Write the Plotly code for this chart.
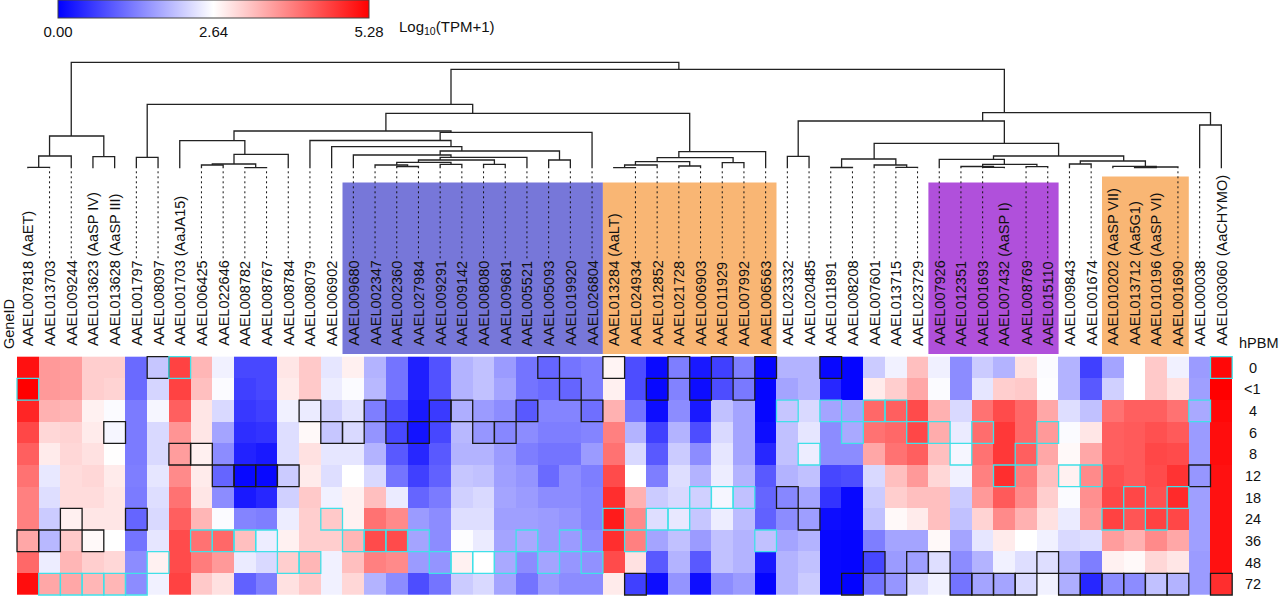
import plotly.graph_objects as go

# ---------------- data ----------------
genes = ["AAEL007818 (AaET)", "AAEL013703", "AAEL009244", "AAEL013623 (AaSP IV)", "AAEL013628 (AaSP III)",
         "AAEL001797", "AAEL008097", "AAEL001703 (AaJA15)", "AAEL006425", "AAEL022646",
         "AAEL008782", "AAEL008767", "AAEL008784", "AAEL008079", "AAEL006902",
         "AAEL009680", "AAEL002347", "AAEL002360", "AAEL027984", "AAEL009291",
         "AAEL009142", "AAEL008080", "AAEL009681", "AAEL005521", "AAEL005093",
         "AAEL019920", "AAEL026804", "AAEL013284 (AaLT)", "AAEL024934", "AAEL012852",
         "AAEL021728", "AAEL006903", "AAEL011929", "AAEL007992", "AAEL006563",
         "AAEL023332", "AAEL020485", "AAEL011891", "AAEL008208", "AAEL007601",
         "AAEL013715", "AAEL023729", "AAEL007926", "AAEL012351", "AAEL001693",
         "AAEL007432 (AaSP I)", "AAEL008769", "AAEL015110", "AAEL009843", "AAEL001674",
         "AAEL010202 (AaSP VII)", "AAEL013712 (Aa5G1)", "AAEL010196 (AaSP VI)", "AAEL001690", "AAEL000038",
         "AAEL003060 (AaCHYMO)"]

hpbm = ["0", "<1", "4", "6", "8", "12", "18", "24", "36", "48", "72"]

# log10(TPM+1), one list per time point (genes in dendrogram order)
h0 = [5.1, 3.7, 3.65, 3.15, 3.15, 1.1, 2.05, 4.6, 3.4, 2.5,
      0.75, 0.75, 2.9, 3.2, 2.38, 2.8, 1.85, 1.2, 0.32, 0.85,
      1.85, 2.0, 1.6, 1.2, 1.05, 1.2, 1.3, 2.75, 0.8, 0.1,
      1.3, 0.26, 0.66, 1.3, 0.05, 1.85, 1.85, 0.08, 0.05, 2.1,
      2.5, 3.3, 2.48, 1.45, 2.1, 1.85, 2.95, 2.6, 1.85, 0.66,
      1.7, 2.64, 3.2, 2.5, 1.6, 5.2]
h_lt1 = [5.28, 3.7, 3.65, 3.15, 3.1, 1.1, 2.2, 4.6, 3.3, 2.6,
         0.66, 0.75, 2.85, 3.2, 2.45, 2.6, 1.9, 1.2, 0.32, 0.85,
         1.85, 2.0, 1.7, 1.2, 1.1, 1.05, 1.3, 2.8, 0.8, 0.08,
         1.35, 0.13, 0.8, 1.25, 0.05, 1.7, 1.85, 0.4, 0.05, 2.85,
         3.15, 3.55, 2.6, 1.45, 2.38, 3.15, 3.2, 2.62, 1.85, 0.92,
         2.15, 2.64, 3.2, 2.95, 1.65, 5.28]
h4 = [4.9, 3.45, 3.4, 2.78, 2.6, 1.27, 2.55, 4.3, 2.9, 2.25,
      0.58, 0.66, 2.5, 2.43, 2.15, 2.35, 1.3, 0.8, 0.26, 0.6,
      1.8, 1.6, 1.45, 0.92, 1.37, 1.37, 1.15, 3.45, 1.2, 0.13,
      1.45, 0.26, 2.0, 1.7, 0.06, 2.05, 2.25, 1.7, 1.7, 4.2,
      4.3, 4.5, 3.45, 2.25, 4.1, 4.5, 4.2, 3.55, 2.3, 2.0,
      4.1, 4.3, 4.3, 4.1, 1.75, 5.2]
h6 = [4.55, 3.05, 3.1, 2.85, 2.55, 1.27, 2.25, 3.75, 2.9, 1.7,
      0.48, 0.53, 2.3, 2.7, 2.05, 2.25, 1.53, 0.75, 0.2, 0.74,
      1.9, 1.55, 1.4, 1.45, 1.3, 1.3, 1.37, 3.95, 1.85, 0.66,
      1.85, 0.8, 2.25, 1.7, 0.13, 2.0, 2.38, 1.45, 1.75, 4.1,
      4.2, 4.55, 3.5, 2.43, 4.15, 4.7, 4.2, 3.7, 2.6, 2.9,
      4.3, 4.35, 4.45, 4.35, 1.6, 5.15]
h8 = [4.3, 2.85, 3.05, 2.95, 2.65, 1.27, 2.25, 3.65, 2.8, 1.45,
      0.35, 0.26, 2.3, 2.95, 2.38, 2.38, 1.85, 0.92, 0.4, 0.92,
      1.85, 1.85, 1.6, 1.3, 1.2, 1.2, 1.6, 4.1, 2.25, 0.92,
      2.1, 1.45, 2.38, 1.7, 0.4, 2.0, 2.45, 1.45, 1.45, 3.55,
      4.1, 4.3, 3.3, 2.55, 4.1, 4.7, 4.3, 3.55, 2.7, 3.55,
      4.3, 4.35, 4.55, 4.5, 1.6, 5.15]
h12 = [4.1, 2.4, 3.0, 3.05, 2.85, 1.3, 2.38, 3.85, 2.85, 1.05,
       0.08, 0.08, 2.1, 2.85, 2.3, 2.64, 2.25, 1.2, 0.66, 1.0,
       2.05, 2.0, 1.65, 1.53, 1.1, 1.45, 1.3, 4.5, 2.64, 1.3,
       2.3, 1.85, 2.45, 1.85, 0.92, 1.85, 2.0, 0.74, 0.8, 2.25,
       3.3, 3.7, 3.05, 2.5, 3.95, 4.8, 4.0, 3.3, 2.78, 3.85,
       4.45, 4.35, 4.5, 4.75, 1.55, 5.1]
h18 = [3.95, 2.3, 3.0, 3.0, 2.9, 1.27, 2.3, 4.1, 2.9, 1.45,
       0.26, 0.4, 2.15, 3.2, 2.5, 2.78, 3.3, 2.43, 1.05, 1.27,
       2.15, 2.25, 1.7, 1.6, 1.45, 1.45, 1.37, 4.8, 3.45, 2.1,
       2.25, 2.15, 2.55, 2.0, 1.05, 1.4, 1.7, 0.53, 0.08, 2.1,
       3.15, 3.3, 3.3, 2.1, 3.7, 4.35, 3.85, 3.15, 2.6, 3.8,
       4.55, 4.55, 4.45, 4.85, 1.65, 5.1]
h24 = [3.95, 2.1, 2.8, 2.9, 2.9, 1.05, 2.25, 4.3, 3.4, 2.6,
       1.37, 1.3, 2.45, 3.15, 3.2, 2.78, 4.1, 3.85, 1.6, 1.45,
       2.3, 2.3, 1.65, 1.65, 1.6, 1.53, 1.37, 5.0, 3.85, 2.3,
       2.4, 2.05, 2.45, 1.95, 1.0, 1.45, 1.64, 0.13, 0.08, 2.0,
       2.7, 2.85, 3.3, 2.0, 3.1, 3.85, 3.45, 2.95, 2.43, 3.7,
       4.6, 4.4, 4.6, 4.55, 1.65, 5.1]
h36 = [3.55, 1.9, 3.2, 2.7, 2.64, 1.2, 2.38, 4.5, 4.1, 4.2,
       3.3, 2.45, 2.78, 3.15, 3.15, 3.4, 4.5, 4.5, 1.7, 1.45,
       2.62, 2.43, 1.7, 1.75, 1.6, 1.6, 1.45, 4.8, 3.95, 1.7,
       2.0, 1.6, 2.0, 1.85, 2.0, 1.7, 1.85, 0.08, 0.05, 1.3,
       1.7, 1.7, 2.7, 1.7, 2.38, 2.85, 2.64, 2.5, 2.25, 2.3,
       3.65, 3.45, 3.85, 3.55, 1.65, 5.1]
h48 = [4.2, 2.45, 3.4, 3.15, 3.05, 1.45, 2.78, 4.5, 4.0, 3.7,
       2.43, 2.25, 3.15, 3.4, 2.5, 3.3, 3.95, 3.85, 1.6, 1.53,
       2.78, 2.64, 1.75, 1.45, 1.7, 1.55, 1.5, 4.5, 2.95, 0.92,
       1.85, 0.92, 2.0, 1.85, 0.26, 1.85, 2.0, 0.08, 0.05, 0.74,
       1.6, 1.65, 2.3, 1.45, 1.85, 2.5, 2.3, 2.3, 1.85, 1.3,
       2.78, 2.7, 3.05, 2.9, 1.6, 5.1]
h72 = [5.15, 3.55, 3.55, 3.4, 3.4, 1.45, 2.5, 4.6, 3.2, 2.95,
       1.0, 1.3, 2.95, 3.2, 2.5, 3.05, 1.85, 1.45, 0.8, 1.2,
       2.1, 2.25, 1.7, 1.2, 1.6, 1.45, 1.45, 2.85, 0.66, 0.13,
       1.53, 0.15, 1.45, 1.6, 0.05, 1.85, 2.1, 0.08, 0.03, 1.2,
       1.55, 2.25, 2.5, 1.2, 1.7, 1.7, 2.25, 2.5, 1.8, 0.4,
       1.45, 1.45, 2.0, 1.85, 1.6, 4.8]

# time point (row index) outlined in black (lowest) and cyan (highest) for each gene
low_row = [8, 8, 7, 8, 3, 7, 0, 4, 4, 5, 5, 5, 5, 2, 3, 3, 2, 3, 3, 2,
           2, 3, 3, 2, 0, 1, 2, 0, 10, 1, 0, 1, 0, 1, 0, 6, 7, 0, 10, 9,
           10, 9, 9, 10, 10, 10, 10, 9, 10, 10, 10, 10, 10, 10, 5, 10]
high_row = [1, 10, 10, 10, 10, 10, 9, 0, 8, 8, 8, 8, 9, 9, 7, 8, 8, 8, 8, 9,
            9, 9, 9, 8, 9, 8, 9, 7, 8, 7, 7, 6, 6, 6, 8, 2, 4, 2, 3, 2,
            2, 3, 3, 4, 3, 5, 4, 3, 5, 5, 7, 6, 7, 6, 2, 0]

# dendrogram: each internal node covers leaves [first..last], children split at `split`
node_first = [0, 0, 0, 0, 3, 5, 5, 5, 7, 7, 7, 8, 8, 8, 10, 13, 13, 14, 15, 24,
              15, 16, 16, 16, 16, 17, 19, 21, 27, 27, 27, 27, 27, 30, 32, 35, 35, 35, 37, 37,
              37, 39, 40, 42, 42, 43, 43, 44, 46, 48, 48, 50, 51, 51, 54]
node_split = [5, 3, 2, 1, 4, 35, 7, 6, 27, 13, 8, 12, 10, 9, 11, 26, 14, 15, 24, 25,
              16, 23, 21, 19, 17, 18, 20, 22, 34, 32, 30, 29, 28, 31, 33, 54, 37, 36, 42, 39,
              38, 40, 41, 48, 43, 46, 44, 45, 47, 50, 49, 51, 53, 52, 55]
node_last = [55, 4, 2, 1, 4, 55, 34, 6, 34, 26, 12, 12, 11, 9, 11, 26, 25, 25, 25, 25,
             23, 23, 22, 20, 18, 18, 20, 22, 34, 33, 31, 29, 28, 31, 33, 55, 53, 36, 53, 41,
             38, 41, 41, 53, 47, 47, 45, 45, 47, 53, 49, 53, 53, 52, 55]
node_height = [106, 32.3, 12.3, 1.0, 11.6, 99, 64, 11, 55, 37.3, 27.6, 14, 4.3, 3.3, 0.6, 36, 27.8, 21.6, 17.3, 8.3,
               13.3, 11, 8.3, 6, 3.3, 1.8, 4, 4, 16.6, 10.6, 6.6, 3.3, 0.6, 2.3, 5.6, 55.6, 47.3, 12, 25, 9.3,
               0.8, 3.3, 1, 12.3, 9, 4, 1.8, 1, 1.6, 7.3, 4.3, 2, 1.3, 0.6, 43.3]

# highlighted gene groups behind the labels: (first leaf, last leaf, colour)
group_first = [15, 27, 42, 50]
group_last = [26, 34, 47, 53]
group_color = ["rgb(119,119,217)", "rgb(249,182,116)", "rgb(176,80,219)", "rgb(249,182,116)"]
group_top = [182.5, 182.5, 182.5, 176.5]

# ---------------- figure ----------------
FONT = "Liberation Sans, Arial, Helvetica, sans-serif"
W, H = 1280, 596
x_range = [-1.2834, 57.703]          # column units (leaf index)
y_range = [10.546, -16.965]          # row units (time point index)
base_px = 168.3                      # dendrogram baseline in pixels

z = [h0, h_lt1, h4, h6, h8, h12, h18, h24, h36, h48, h72]
nG = len(genes)

fig = go.Figure()

fig.add_trace(go.Heatmap(
    z=z, x=list(range(nG)), y=list(range(len(hpbm))),
    zmin=0, zmax=5.28,
    colorscale=[[0, "rgb(0,0,255)"], [0.5, "rgb(255,255,255)"], [1, "rgb(255,0,0)"]],
    showscale=True,
    colorbar=dict(orientation="h", x=213.5 / W, xanchor="center", y=1, yanchor="top",
                  len=311, lenmode="pixels", thickness=18, thicknessmode="pixels",
                  xpad=0, ypad=0, outlinewidth=1, outlinecolor="#444",
                  tickvals=[0, 2.64, 5.28], ticktext=["0.00", "2.64", "5.28"],
                  ticks="", tickfont=dict(family=FONT, size=15, color="#111")),
    hoverinfo="skip",
))

# dendrogram
node_h = {(f, l): h for f, l, h in zip(node_first, node_last, node_height)}
def hgt(f, l):
    return 0.0 if f == l else node_h[(f, l)]
dx, dy = [], []
for f, s, l, h in zip(node_first, node_split, node_last, node_height):
    lx, rx = (f + s - 1) / 2.0, (s + l) / 2.0
    dx += [lx, lx, rx, rx, None]
    dy += [hgt(f, s - 1), h, h, hgt(s, l), None]
fig.add_trace(go.Scatter(x=dx, y=dy, xaxis="x", yaxis="y2", mode="lines",
                         line=dict(color="#222", width=1.3), hoverinfo="skip", showlegend=False))

# dashed connectors from leaves to the plain labels
LABEL_BASE = 348
CHAR_W = 8.55
sx, sy = [], []
for i, g in enumerate(genes):
    if "(" not in g:
        top = LABEL_BASE - len(g) * CHAR_W - 3
        sx += [i, i, None]
        sy += [base_px + 3, top, None]
fig.add_trace(go.Scatter(x=sx, y=sy, xaxis="x", yaxis="y3", mode="lines",
                         line=dict(color="#111", width=1, dash="2px,3px"),
                         hoverinfo="skip", showlegend=False))

shapes = []
for f, l, c, t in zip(group_first, group_last, group_color, group_top):
    shapes.append(dict(type="rect", xref="x", yref="y3", x0=f - 0.5, x1=l + 0.5, y0=t, y1=354,
                       fillcolor=c, line=dict(width=0), layer="below"))
for i, r in enumerate(low_row):
    shapes.append(dict(type="rect", xref="x", yref="y", x0=i - 0.5, x1=i + 0.5, y0=r - 0.5, y1=r + 0.5,
                       line=dict(color="#1a1a1a", width=1.3)))
for i, r in enumerate(high_row):
    shapes.append(dict(type="rect", xref="x", yref="y", x0=i - 0.5, x1=i + 0.5, y0=r - 0.5, y1=r + 0.5,
                       line=dict(color="#40e0e8", width=1.3)))

ann = []
for i, g in enumerate(genes):
    ann.append(dict(x=i, y=LABEL_BASE, xref="x", yref="y3", text=g, textangle=-90, showarrow=False,
                    xanchor="center", yanchor="bottom", font=dict(family=FONT, size=14.5, color="#111")))
for r, t in enumerate(hpbm):
    ann.append(dict(x=1252.5 / W, y=r, xref="paper", yref="y", text=t.replace("<", "&lt;"), showarrow=False,
                    xanchor="center", yanchor="middle", font=dict(family=FONT, size=14.5, color="#111")))
ann.append(dict(x=1237 / W, y=343, xref="paper", yref="y3", text="hPBM", showarrow=False,
                xanchor="left", yanchor="middle", font=dict(family=FONT, size=14.5, color="#111")))
ann.append(dict(x=9 / W, y=351, xref="paper", yref="y3", text="GeneID", textangle=-90, showarrow=False,
                xanchor="center", yanchor="bottom", font=dict(family=FONT, size=14.5, color="#111")))
ann.append(dict(x=397 / W, y=27, xref="paper", yref="y3", text="Log<sub>10</sub>(TPM+1)", showarrow=False,
                xanchor="left", yanchor="middle", font=dict(family=FONT, size=15, color="#111")))

fig.update_layout(
    width=W, height=H, margin=dict(l=0, r=0, t=0, b=0),
    paper_bgcolor="white", plot_bgcolor="white", showlegend=False,
    xaxis=dict(range=x_range, visible=False, showgrid=False, zeroline=False),
    yaxis=dict(range=y_range, visible=False, showgrid=False, zeroline=False),
    yaxis2=dict(range=[base_px - H, base_px], overlaying="y", visible=False, showgrid=False, zeroline=False),
    yaxis3=dict(range=[H, 0], overlaying="y", visible=False, showgrid=False, zeroline=False),
    shapes=shapes, annotations=ann,
)

fig.write_html("out.html", config={"displayModeBar": False},
               post_script="document.body.style.margin='0';document.body.style.overflow='hidden';")
